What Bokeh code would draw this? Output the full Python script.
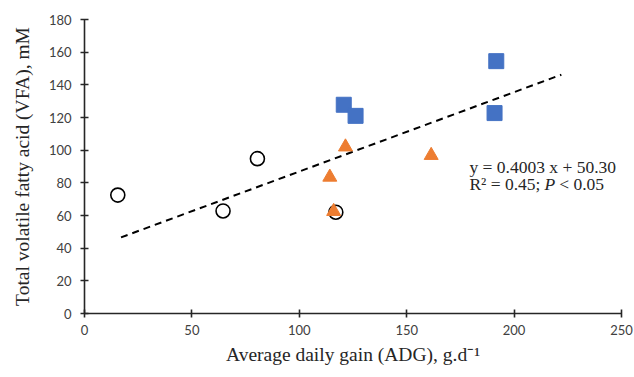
from bokeh.plotting import figure
from bokeh.models import Range1d, FixedTicker, Label
from bokeh.embed import file_html
from bokeh.resources import INLINE

# Data
circle_x = [15.5, 64.5, 80.5, 117.0]
circle_y = [72.5, 62.8, 94.8, 62.0]
square_x = [120.7, 126.2, 191.7, 190.9]
square_y = [127.8, 121.0, 154.5, 122.7]
triangle_x = [114.2, 121.5, 161.4, 116.0]
triangle_y = [83.5, 102.0, 96.8, 62.5]
trend_x = [17.0, 222.0]
trend_y = [46.6, 146.2]
x_ticks = [0, 50, 100, 150, 200, 250]
y_ticks = [0, 20, 40, 60, 80, 100, 120, 140, 160, 180]

p = figure(width=634, height=377, output_backend="svg", toolbar_location=None,
           x_range=Range1d(0, 250), y_range=Range1d(0, 180),
           min_border_left=84, min_border_right=13, min_border_top=19, min_border_bottom=64)
p.outline_line_color = None
p.grid.visible = False
p.background_fill_color = "white"
p.border_fill_color = "white"

for ax in (p.xaxis[0], p.yaxis[0]):
    ax.axis_line_color = "#262626"
    ax.axis_line_width = 1.6
    ax.major_tick_line_color = "#262626"
    ax.major_tick_line_width = 1.6
    ax.major_tick_in = 4
    ax.major_tick_out = 4
    ax.minor_tick_line_color = None
    ax.major_label_text_font = "Lato"
    ax.major_label_text_font_size = "13px"
    ax.major_label_text_color = "#404040"
    ax.axis_label_text_font = "Liberation Serif"
    ax.axis_label_text_font_size = "19.5px"
    ax.axis_label_text_font_style = "normal"
    ax.axis_label_text_color = "#262626"

p.xaxis.ticker = FixedTicker(ticks=x_ticks)
p.yaxis.ticker = FixedTicker(ticks=y_ticks)
p.xaxis.axis_label = "Average daily gain (ADG), g.d\u207b\u00b9"
p.yaxis.axis_label = "Total volatile fatty acid (VFA), mM"
p.yaxis.major_label_standoff = 9
p.yaxis.axis_label_standoff = 13
p.xaxis.major_label_standoff = 7
p.xaxis.axis_label_standoff = 6

p.line(trend_x, trend_y, line_color="black", line_width=2, line_dash="7 5")

p.scatter(circle_x, circle_y, marker="circle", size=14, fill_color=None,
          line_color="black", line_width=1.6)
p.scatter(square_x, square_y, marker="square", size=15, fill_color="#4472C4",
          line_color="#4472C4", line_width=1)
p.scatter(triangle_x, triangle_y, marker="triangle", size=14, fill_color="#ED7D31",
          line_color="#ED7D31", line_width=1)

serif = dict(text_font="Liberation Serif", text_font_size="17.5px", text_color="#262626",
             text_baseline="middle")
p.add_layout(Label(x=179.2, y=89.6, text="y = 0.4003 x + 50.30", **serif))
p.add_layout(Label(x=179.2, y=79.0, text="R\u00b2 = 0.45;", **serif))
p.add_layout(Label(x=214.2, y=79.0, text="P", text_font_style="italic", **serif))
p.add_layout(Label(x=221.0, y=79.0, text="< 0.05", **serif))

open("out.html", "w").write(file_html(p, INLINE))
